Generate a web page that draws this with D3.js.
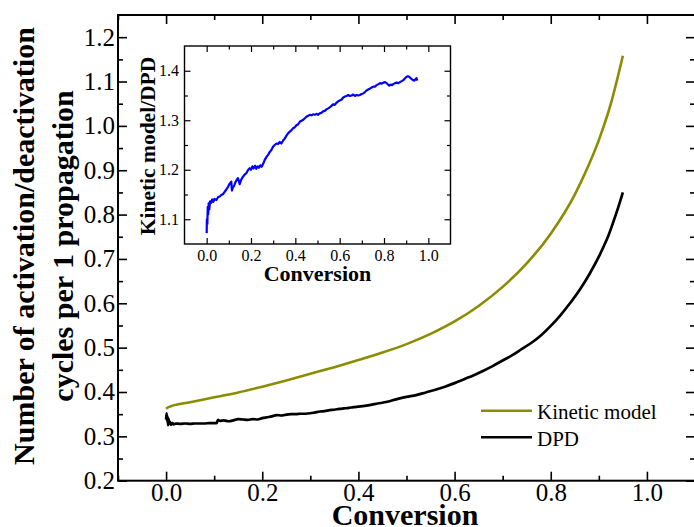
<!DOCTYPE html>
<html>
<head>
<meta charset="utf-8">
<script src="https://cdn.jsdelivr.net/npm/d3@7"></script>
<style>
  html, body { margin: 0; padding: 0; background: #fff; }
  svg { display: block; font-family: "Liberation Serif", "Times New Roman", serif; }
</style>
</head>
<body>
<svg id="chart" width="694" height="527"></svg>
<script>
// Activation/deactivation cycles per propagation step vs. conversion
const seriesNames = ["Kinetic model", "DPD"];

const kineticConversion = [0.000, 0.005, 0.010, 0.050, 0.100, 0.150, 0.200, 0.250, 0.300, 0.350,
  0.400, 0.450, 0.500, 0.550, 0.600, 0.650, 0.700, 0.750, 0.800, 0.850, 0.875, 0.900, 0.925,
  0.950];
const kineticCycles = [0.362, 0.366, 0.368, 0.377, 0.388, 0.399, 0.412, 0.426, 0.441, 0.456,
  0.472, 0.489, 0.508, 0.531, 0.559, 0.594, 0.637, 0.690, 0.757, 0.845, 0.902, 0.968, 1.050,
  1.158];

const dpdConversion = [0.000, 0.001, 0.002, 0.003, 0.004, 0.005, 0.006, 0.008, 0.010, 0.013,
  0.016, 0.020, 0.030, 0.040, 0.050, 0.060, 0.070, 0.080, 0.090, 0.100, 0.105, 0.108, 0.112,
  0.120, 0.130, 0.140, 0.150, 0.160, 0.170, 0.180, 0.190, 0.200, 0.210, 0.220, 0.230, 0.240,
  0.250, 0.260, 0.270, 0.280, 0.290, 0.300, 0.310, 0.320, 0.330, 0.340, 0.350, 0.360, 0.370,
  0.380, 0.390, 0.400, 0.420, 0.440, 0.460, 0.480, 0.500, 0.520, 0.540, 0.560, 0.580, 0.600,
  0.620, 0.640, 0.660, 0.680, 0.700, 0.720, 0.740, 0.760, 0.780, 0.800, 0.820, 0.840, 0.860,
  0.880, 0.900, 0.910, 0.920, 0.930, 0.940, 0.950];
const dpdCycles = [0.338, 0.352, 0.335, 0.345, 0.325, 0.340, 0.330, 0.333, 0.326, 0.330,
  0.327, 0.329, 0.328, 0.329, 0.328, 0.329, 0.329, 0.329, 0.330, 0.330, 0.330, 0.337, 0.335,
  0.336, 0.334, 0.336, 0.339, 0.338, 0.337, 0.339, 0.338, 0.341, 0.343, 0.345, 0.348, 0.347,
  0.349, 0.350, 0.350, 0.351, 0.351, 0.352, 0.354, 0.356, 0.357, 0.359, 0.360, 0.362, 0.363,
  0.364, 0.366, 0.367, 0.370, 0.374, 0.378, 0.384, 0.389, 0.393, 0.399, 0.405, 0.412, 0.420,
  0.429, 0.438, 0.448, 0.459, 0.471, 0.483, 0.497, 0.511, 0.528, 0.549, 0.573, 0.600, 0.630,
  0.665, 0.705, 0.728, 0.753, 0.783, 0.815, 0.850];

// Inset: ratio Kinetic model / DPD
const ratioConversion = [0.000, 0.001, 0.003, 0.005, 0.007, 0.009, 0.012, 0.015, 0.020, 0.025,
  0.030, 0.035, 0.044, 0.052, 0.059, 0.066, 0.074, 0.082, 0.089, 0.097, 0.104, 0.111, 0.114,
  0.118, 0.124, 0.130, 0.136, 0.141, 0.146, 0.149, 0.156, 0.164, 0.171, 0.179, 0.186, 0.194,
  0.200, 0.206, 0.212, 0.218, 0.224, 0.230, 0.236, 0.242, 0.248, 0.255, 0.262, 0.270, 0.277,
  0.285, 0.292, 0.300, 0.307, 0.315, 0.322, 0.330, 0.337, 0.345, 0.352, 0.360, 0.368, 0.375,
  0.383, 0.390, 0.398, 0.405, 0.413, 0.420, 0.428, 0.436, 0.443, 0.450, 0.458, 0.465, 0.473,
  0.480, 0.488, 0.495, 0.503, 0.510, 0.518, 0.525, 0.533, 0.540, 0.548, 0.555, 0.563, 0.570,
  0.578, 0.585, 0.593, 0.600, 0.609, 0.616, 0.624, 0.631, 0.639, 0.646, 0.654, 0.661, 0.669,
  0.676, 0.684, 0.691, 0.699, 0.706, 0.714, 0.721, 0.729, 0.737, 0.744, 0.752, 0.759, 0.767,
  0.775, 0.782, 0.790, 0.797, 0.805, 0.812, 0.818, 0.824, 0.830, 0.836, 0.842, 0.850, 0.857,
  0.865, 0.872, 0.880, 0.887, 0.895, 0.902, 0.908, 0.914, 0.920, 0.925, 0.931, 0.937, 0.942,
  0.947, 0.950];
const ratioValues = [1.072, 1.100, 1.090, 1.125, 1.110, 1.132, 1.120, 1.136, 1.133, 1.140,
  1.135, 1.141, 1.139, 1.145, 1.146, 1.149, 1.151, 1.156, 1.160, 1.166, 1.172, 1.176, 1.158,
  1.164, 1.168, 1.175, 1.180, 1.183, 1.176, 1.171, 1.180, 1.186, 1.190, 1.193, 1.199, 1.203,
  1.200, 1.207, 1.203, 1.208, 1.202, 1.207, 1.204, 1.209, 1.206, 1.212, 1.220, 1.226, 1.230,
  1.236, 1.240, 1.247, 1.250, 1.253, 1.252, 1.256, 1.253, 1.259, 1.263, 1.269, 1.274, 1.277,
  1.280, 1.284, 1.286, 1.290, 1.292, 1.297, 1.299, 1.301, 1.304, 1.307, 1.309, 1.311, 1.310,
  1.312, 1.311, 1.313, 1.311, 1.314, 1.315, 1.318, 1.319, 1.322, 1.324, 1.326, 1.329, 1.332,
  1.331, 1.335, 1.338, 1.340, 1.342, 1.346, 1.348, 1.349, 1.351, 1.349, 1.350, 1.352, 1.349,
  1.351, 1.350, 1.351, 1.353, 1.354, 1.357, 1.360, 1.362, 1.364, 1.366, 1.368, 1.368, 1.371,
  1.373, 1.375, 1.374, 1.376, 1.377, 1.375, 1.372, 1.370, 1.372, 1.371, 1.373, 1.375, 1.376,
  1.375, 1.377, 1.379, 1.381, 1.385, 1.388, 1.389, 1.388, 1.385, 1.383, 1.381, 1.380, 1.383,
  1.385, 1.380];

// Tick values
const mainXLabelTicks = [0.0, 0.2, 0.4, 0.6, 0.8, 1.0];
const mainXMinorTicks = [-0.1, 0.1, 0.3, 0.5, 0.7, 0.9, 1.1];
const mainYLabelTicks = [0.2, 0.3, 0.4, 0.5, 0.6, 0.7, 0.8, 0.9, 1.0, 1.1, 1.2];
const mainYMinorTicks = [0.25, 0.35, 0.45, 0.55, 0.65, 0.75, 0.85, 0.95, 1.05, 1.15];
const insetXLabelTicks = [0.0, 0.2, 0.4, 0.6, 0.8, 1.0];
const insetXMinorTicks = [0.1, 0.3, 0.5, 0.7, 0.9];
const insetYLabelTicks = [1.1, 1.2, 1.3, 1.4];
const insetYMinorTicks = [1.15, 1.25, 1.35];

const kineticColor = "#8c8c00";
const dpdColor = "#000000";
const ratioColor = "#0000ff";

const svg = d3.select("#chart");
const fmt = d3.format(".1f");

// Draws a boxed frame with inward ticks on all four sides
function drawFrame(g, x, y, o) {
  const [x0, x1] = x.range();
  const [y1, y0] = y.range();
  const sides = [
    { axis: d3.axisBottom, at: `translate(0,${y1})`, scale: x, labels: true, lt: o.xLabels, mt: o.xMinor },
    { axis: d3.axisTop, at: `translate(0,${y0})`, scale: x, labels: false, lt: o.xLabels, mt: o.xMinor },
    { axis: d3.axisLeft, at: `translate(${x0},0)`, scale: y, labels: true, lt: o.yLabels, mt: o.yMinor },
    { axis: d3.axisRight, at: `translate(${x1},0)`, scale: y, labels: false, lt: o.yLabels, mt: o.yMinor }
  ];
  sides.forEach(s => {
    const isX = s.scale === x;
    const major = g.append("g").attr("transform", s.at)
      .call(s.axis(s.scale).tickValues(s.lt).tickSize(-o.major)
        .tickPadding(isX ? o.xPad : o.yPad)
        .tickFormat(s.labels ? fmt : ""));
    const minor = g.append("g").attr("transform", s.at)
      .call(s.axis(s.scale).tickValues(s.mt).tickSize(-o.minor).tickFormat(""));
    [major, minor].forEach(a => {
      a.select(".domain").remove();
      a.selectAll(".tick line").attr("stroke", "#000").attr("stroke-width", o.tickWidth);
    });
    major.selectAll(".tick text")
      .attr("fill", "#000")
      .attr("font-family", "'Liberation Serif', 'Times New Roman', serif")
      .attr("font-size", o.fontSize);
  });
  g.append("rect")
    .attr("x", x0).attr("y", y0)
    .attr("width", x1 - x0).attr("height", y1 - y0)
    .attr("fill", "none").attr("stroke", "#000").attr("stroke-width", o.frameWidth);
}

// ---- Main chart ----
const x = d3.scaleLinear().domain([-0.1, 1.1]).range([118, 695]);
const y = d3.scaleLinear().domain([0.2, 1.25]).range([480.7, 15]);

const main = svg.append("g");

const kineticData = kineticConversion.map((c, i) => [c, kineticCycles[i]]);
const dpdData = dpdConversion.map((c, i) => [c, dpdCycles[i]]);

main.append("path")
  .datum(kineticData)
  .attr("fill", "none").attr("stroke", kineticColor).attr("stroke-width", 2.6)
  .attr("d", d3.line().x(d => x(d[0])).y(d => y(d[1])).curve(d3.curveMonotoneX));

main.append("path")
  .datum(dpdData)
  .attr("fill", "none").attr("stroke", dpdColor).attr("stroke-width", 2.7)
  .attr("stroke-linejoin", "round")
  .attr("d", d3.line().x(d => x(d[0])).y(d => y(d[1])).curve(d3.curveMonotoneX));

drawFrame(main, x, y, {
  xLabels: mainXLabelTicks, xMinor: mainXMinorTicks,
  yLabels: mainYLabelTicks, yMinor: mainYMinorTicks,
  major: 9, minor: 5, xPad: 3, yPad: 3,
  fontSize: 25, tickWidth: 1.6, frameWidth: 2
});

// Axis titles
svg.append("text")
  .attr("x", 405).attr("y", 525)
  .attr("text-anchor", "middle")
  .attr("font-weight", "bold").attr("font-size", 30)
  .text("Conversion");

const yTitle = svg.append("text")
  .attr("transform", "translate(0,246) rotate(-90)")
  .attr("text-anchor", "middle")
  .attr("font-weight", "bold").attr("font-size", 30);
yTitle.append("tspan").attr("x", 0).attr("y", 34).text("Number of activation/deactivation");
yTitle.append("tspan").attr("x", 0).attr("y", 73).text("cycles per 1 propagation");

// Legend
const legend = svg.append("g");
const legendColors = [kineticColor, dpdColor];
const legendY = [410.7, 437.3];
seriesNames.forEach((name, i) => {
  legend.append("line")
    .attr("x1", 481).attr("x2", 532)
    .attr("y1", legendY[i]).attr("y2", legendY[i])
    .attr("stroke", legendColors[i]).attr("stroke-width", 2.4);
  legend.append("text")
    .attr("x", 537).attr("y", legendY[i] + 8.5)
    .attr("font-size", 21)
    .text(name);
});

// ---- Inset chart ----
const xi = d3.scaleLinear().domain([-0.1, 1.1]).range([184.5, 450.5]);
const yi = d3.scaleLinear().domain([1.05, 1.45]).range([244, 46]);

const inset = svg.append("g");
inset.append("rect")
  .attr("x", 184.5).attr("y", 46).attr("width", 266).attr("height", 198)
  .attr("fill", "#fff");

const ratioData = ratioConversion.map((c, i) => [c, ratioValues[i]]);
inset.append("path")
  .datum(ratioData)
  .attr("fill", "none").attr("stroke", ratioColor).attr("stroke-width", 2.2)
  .attr("stroke-linejoin", "round")
  .attr("d", d3.line().x(d => xi(d[0])).y(d => yi(d[1])));

drawFrame(inset, xi, yi, {
  xLabels: insetXLabelTicks, xMinor: insetXMinorTicks,
  yLabels: insetYLabelTicks, yMinor: insetYMinorTicks,
  major: 6, minor: 3.5, xPad: 6, yPad: 5.5,
  fontSize: 16, tickWidth: 1.2, frameWidth: 1.4
});

svg.append("text")
  .attr("x", 317.5).attr("y", 281)
  .attr("text-anchor", "middle")
  .attr("font-weight", "bold").attr("font-size", 22)
  .text("Conversion");

svg.append("text")
  .attr("transform", "translate(155,146) rotate(-90)")
  .attr("text-anchor", "middle")
  .attr("font-weight", "bold").attr("font-size", 21.5)
  .text("Kinetic model/DPD");
</script>
</body>
</html>
